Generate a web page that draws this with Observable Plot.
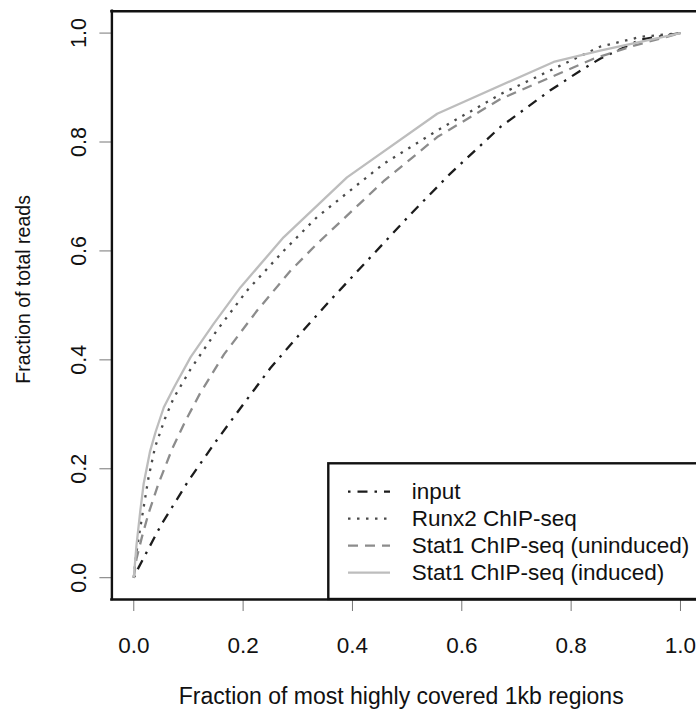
<!DOCTYPE html>
<html><head><meta charset="utf-8">
<script src="https://cdn.jsdelivr.net/npm/d3@7"></script>
<script src="https://cdn.jsdelivr.net/npm/@observablehq/plot@0.6"></script>
<style>
html,body{margin:0;padding:0;background:#fff;}
#chart{width:696px;height:711px;overflow:hidden;}
</style></head><body><div id="chart"></div>
<script>
// ---- data ----
const seriesNames = ["input", "Runx2 ChIP-seq", "Stat1 ChIP-seq (uninduced)", "Stat1 ChIP-seq (induced)"];
const inputX = [0, 0.009, 0.05, 0.1, 0.15, 0.2, 0.25, 0.3, 0.36, 0.427, 0.506, 0.579, 0.671, 0.762, 0.817, 0.853, 0.927, 1];
const inputY = [0, 0.019, 0.097, 0.178, 0.25, 0.318, 0.385, 0.443, 0.51, 0.582, 0.667, 0.742, 0.828, 0.895, 0.931, 0.953, 0.988, 1];
const runx2X = [0, 0.004, 0.009, 0.018, 0.027, 0.039, 0.057, 0.073, 0.104, 0.152, 0.207, 0.274, 0.335, 0.457, 0.555, 0.671, 0.853, 0.927, 1];
const runx2Y = [0, 0.04, 0.074, 0.129, 0.184, 0.24, 0.292, 0.33, 0.383, 0.454, 0.527, 0.6, 0.662, 0.76, 0.821, 0.888, 0.975, 0.993, 1];
const uninducedX = [0, 0.005, 0.015, 0.027, 0.045, 0.07, 0.094, 0.121, 0.165, 0.226, 0.287, 0.335, 0.457, 0.555, 0.671, 0.841, 0.915, 1];
const uninducedY = [0, 0.035, 0.075, 0.118, 0.172, 0.236, 0.287, 0.338, 0.41, 0.491, 0.564, 0.613, 0.728, 0.809, 0.879, 0.953, 0.977, 1];
const inducedX = [0, 0.005, 0.012, 0.018, 0.03, 0.04, 0.055, 0.075, 0.104, 0.146, 0.195, 0.274, 0.39, 0.555, 0.768, 0.853, 1];
const inducedY = [0, 0.06, 0.123, 0.172, 0.233, 0.268, 0.313, 0.352, 0.405, 0.466, 0.533, 0.625, 0.735, 0.852, 0.947, 0.968, 1];
const xTicks = [0, 0.2, 0.4, 0.6, 0.8, 1.0];
const yTicks = [0, 0.2, 0.4, 0.6, 0.8, 1.0];
const xTitle = "Fraction of most highly covered 1kb regions";
const yTitle = "Fraction of total reads";

// ---- styles ----
const styles = [
  {color: "#1c1c1c", dash: "2.5,7,10,7"},
  {color: "#4a4a4a", dash: "2.5,6.5"},
  {color: "#8c8c8c", dash: "10,7"},
  {color: "#bdbdbd", dash: null}
];
const xsAll = [inputX, runx2X, uninducedX, inducedX];
const ysAll = [inputY, runx2Y, uninducedY, inducedY];
const tables = xsAll.map((xs, i) => xs.map((x, j) => ({x, y: ysAll[i][j], s: seriesNames[i]})));

const W = 696, H = 711, mL = 111.4, mT = 10.8, mB = 112;
const xDomain = [-0.04, 1.0293], yDomain = [-0.04, 1.04];
const font = "'Liberation Sans', Arial, Helvetica, sans-serif";
const fmt = d3.format(".1f");

const plot = Plot.plot({
  width: W, height: H,
  marginLeft: mL, marginTop: mT, marginBottom: mB, marginRight: 0,
  x: {domain: xDomain},
  y: {domain: yDomain},
  style: {fontFamily: font, background: "white", color: "#111"},
  marks: [
    Plot.axisX({ticks: xTicks, tickSize: 12, tickPadding: 25.5, tickFormat: fmt, fontSize: 22.5, stroke: "#777", fill: "#111", label: null}),
    Plot.axisY({ticks: yTicks, tickSize: 12, tickFormat: () => "", stroke: "#777", label: null}),
    Plot.text(yTicks, {y: d => d, text: d => fmt(d), frameAnchor: "left", dx: -26, rotate: -90, lineAnchor: "bottom", textAnchor: "middle", fontSize: 21.5, fill: "#111"}),
    ...tables.map((t, i) => Plot.line(t, {x: "x", y: "y", stroke: styles[i].color, strokeWidth: 2.3, strokeDasharray: styles[i].dash || undefined, strokeLinecap: "butt"})),
    Plot.ruleY([yDomain[0], yDomain[1]], {stroke: "#111", strokeWidth: 2.4, strokeLinecap: "square"}),
    Plot.ruleX([xDomain[0]], {stroke: "#111", strokeWidth: 2.4, strokeLinecap: "square"}),
    Plot.text([xTitle], {frameAnchor: "bottom", dx: -3, dy: 104, lineAnchor: "bottom", textAnchor: "middle", fontSize: 23, fill: "#111"}),
    Plot.text([yTitle], {frameAnchor: "left", dx: -82, dy: -16, rotate: -90, lineAnchor: "bottom", textAnchor: "middle", fontSize: 19.5, fill: "#111"})
  ]
});

// ---- legend (bottom-right, R style) ----
const svg = d3.select(plot);
const bottom = H - mB;
const lg = svg.append("g").attr("font-family", font).attr("font-size", 22.5).attr("text-anchor", "start");
const boxX = 328.3, boxY = 463.3;
lg.append("rect").attr("x", boxX).attr("y", boxY).attr("width", 420).attr("height", bottom - boxY)
  .attr("fill", "white").attr("stroke", "#111").attr("stroke-width", 2.4);
seriesNames.forEach((name, i) => {
  const yy = 491.7 + i * 27;
  const ln = lg.append("line").attr("x1", 348).attr("x2", 390).attr("y1", yy).attr("y2", yy)
    .attr("stroke", styles[i].color).attr("stroke-width", 2.3);
  if (styles[i].dash) ln.attr("stroke-dasharray", styles[i].dash);
  lg.append("text").attr("x", 411.7).attr("y", yy).attr("dy", "0.32em").attr("text-anchor", "start").attr("fill", "#111").text(name);
});

document.getElementById("chart").appendChild(plot);
</script>
</body></html>
